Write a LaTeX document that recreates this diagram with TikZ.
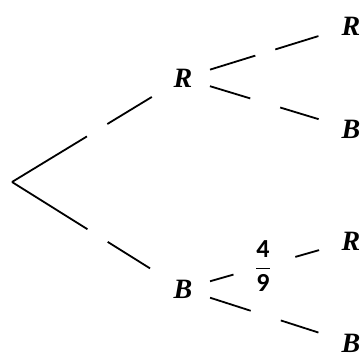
\documentclass[tikz,border=0pt]{standalone}
\usepackage{fontspec}
\setmainfont{Liberation Serif}
\newfontfamily\carlito{Carlito}
\usepackage{amsmath}
\tikzset{
  lbl/.style={inner sep=0pt, font=\fontsize{28}{32}\selectfont\bfseries\itshape},
  frc/.style={inner sep=0pt, font=\fontsize{26}{30}\selectfont\carlito\bfseries},
  br/.style={line width=1.8pt, line cap=butt}
}
\begin{document}
\begin{tikzpicture}[x=1pt,y=-1pt]
\useasboundingbox (0,0) rectangle (364,358);
\coordinate (O) at (12,182);
\node[lbl] (R1) at (183,78) {R};
\node[lbl] (B1) at (183,289) {B};
\node[lbl] (RR) at (351,26) {R};
\node[lbl] (RB) at (351,129) {B};
\node[lbl] (BR) at (351,241) {R};
\node[lbl] (BB) at (351,343) {B};
\node[frc] (F) at (263,266) {$\displaystyle\frac{\text{4}}{\text{9}}$};
\draw[br, shorten >=36.5pt, dash pattern=on 87.7pt off 23.9pt on 200pt] (O) -- (R1.center);
\draw[br, shorten >=38.9pt, dash pattern=on 89pt off 23.9pt on 200pt] (O) -- (B1.center);
\draw[br, shorten <=28.3pt, shorten >=34.1pt, dash pattern=on 47.4pt off 20.9pt on 200pt] (R1.center) -- (RR.center);
\draw[br, shorten <=28.2pt, shorten >=33.8pt, dash pattern=on 42.1pt off 31.3pt on 200pt] (R1.center) -- (RB.center);
\draw[br, shorten <=28.1pt, shorten >=33.2pt, dash pattern=on 24.4pt off 64.3pt on 200pt] (B1.center) -- (BR.center);
\draw[br, shorten <=28.4pt, shorten >=34.2pt, dash pattern=on 42.7pt off 31.6pt on 200pt] (B1.center) -- (BB.center);
\end{tikzpicture}
\end{document}
